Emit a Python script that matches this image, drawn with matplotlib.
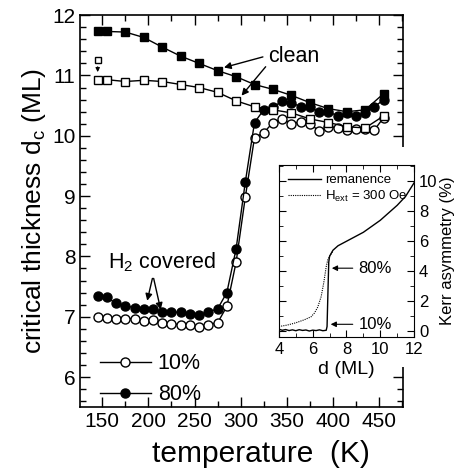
import matplotlib
matplotlib.use("Agg")
import matplotlib.pyplot as plt
from matplotlib.patches import Rectangle
from matplotlib.lines import Line2D
from matplotlib.ticker import MultipleLocator

plt.rcParams['font.family'] = ['Liberation Sans', 'DejaVu Sans']
plt.rcParams['mathtext.fontset'] = 'custom'
plt.rcParams['mathtext.rm'] = 'Liberation Sans'

# clean surface (squares)
T_clean = [145, 155, 175, 195, 215, 235, 255, 275, 295, 315, 335, 355, 375, 395, 415, 435, 455]
dc_clean_80 = [11.73, 11.73, 11.72, 11.63, 11.47, 11.32, 11.20, 11.08, 10.98, 10.85,
               10.77, 10.67, 10.55, 10.45, 10.40, 10.43, 10.70]
dc_clean_10 = [10.93, 10.93, 10.90, 10.92, 10.90, 10.85, 10.80, 10.72, 10.58, 10.48,
               10.43, 10.38, 10.28, 10.22, 10.15, 10.13, 10.33]
T_extra = [145, 145]
dc_extra = [11.25, 10.93]

# H2 covered surface (circles)
T_h2 = [145, 155, 165, 175, 185, 195, 205, 215, 225, 235, 245, 255, 265, 275, 285, 295,
        305, 315, 325, 335, 345, 355, 365, 375, 385, 395, 405, 415, 425, 435, 445, 455]
dc_h2_80 = [7.35, 7.32, 7.22, 7.18, 7.15, 7.13, 7.12, 7.08, 7.08, 7.07, 7.05, 7.03, 7.08,
            7.13, 7.40, 8.12, 9.23, 10.22, 10.43, 10.48, 10.57, 10.55, 10.48, 10.47, 10.40,
            10.40, 10.33, 10.37, 10.33, 10.38, 10.48, 10.60]
dc_h2_10 = [7.00, 6.98, 6.97, 6.97, 6.97, 6.93, 6.95, 6.90, 6.88, 6.87, 6.87, 6.83, 6.87,
            6.90, 7.17, 7.90, 8.98, 9.97, 10.05, 10.22, 10.28, 10.20, 10.23, 10.20, 10.08,
            10.15, 10.13, 10.10, 10.12, 10.12, 10.10, 10.30]

# inset: Kerr asymmetry vs thickness
d_rem = [4.0, 4.2, 4.4, 4.6, 4.8, 5.0, 5.2, 5.4, 5.6, 5.8, 6.0, 6.2, 6.4, 6.6, 6.8,
         6.85, 6.9, 6.95, 7.0, 7.2, 7.5, 8.0, 8.5, 9.0, 9.5, 10.0, 10.5, 11.0, 11.5, 12.0]
K_rem = [0.12, 0.05, 0.10, 0.03, 0.08, 0.02, 0.09, 0.04, 0.07, 0.00, 0.06, 0.03, 0.08,
         0.02, 0.05, 0.30, 2.50, 4.60, 5.00, 5.40, 5.70, 6.00, 6.30, 6.60, 7.00, 7.40,
         7.90, 8.40, 9.00, 9.90]
d_ext = [4.0, 4.5, 5.0, 5.5, 5.9, 6.1, 6.3, 6.5, 6.65, 6.8, 6.9, 7.0, 7.2]
K_ext = [0.30, 0.40, 0.55, 0.75, 0.95, 1.20, 1.60, 2.30, 3.20, 4.30, 4.80, 5.00, 5.35]

fig = plt.figure(figsize=(4.58, 4.74), dpi=100)
ax = fig.add_axes([0.175, 0.141, 0.705, 0.827])

mk = dict(color='black', lw=1.0, markeredgecolor='black', markeredgewidth=1.0)
ax.plot(T_h2, dc_h2_10, marker='o', ms=6.5, markerfacecolor='white', zorder=3, **mk)
ax.plot(T_h2, dc_h2_80, marker='o', ms=6.5, markerfacecolor='black', zorder=3, **mk)
ax.plot(T_clean, dc_clean_10, marker='s', ms=6, markerfacecolor='white', zorder=4, **mk)
ax.plot(T_clean, dc_clean_80, marker='s', ms=6, markerfacecolor='black', zorder=4, **mk)
ax.plot(T_extra[:1], dc_extra[:1], marker='s', ms=5, markerfacecolor='white', ls='none',
        markeredgecolor='black', zorder=4)
ax.annotate('', xy=(T_extra[1], dc_extra[1] + 0.08), xytext=(T_extra[0], dc_extra[0] - 0.06),
            arrowprops=dict(arrowstyle='-|>', color='black', lw=0.8, mutation_scale=6))

ax.set_xlim(126, 476)
ax.set_ylim(5.5, 12)
ax.xaxis.set_major_locator(MultipleLocator(50))
ax.xaxis.set_minor_locator(MultipleLocator(25))
ax.yaxis.set_major_locator(MultipleLocator(1))
ax.yaxis.set_minor_locator(MultipleLocator(0.2))
ax.tick_params(which='both', direction='in', top=True, right=True, labelsize=15, width=1.0)
ax.tick_params(which='major', length=7)
ax.tick_params(which='minor', length=4)
for s in ax.spines.values():
    s.set_linewidth(1.2)
ax.set_xlabel('temperature  (K)', fontsize=21.5)
ax.xaxis.set_label_coords(0.56, -0.085)
ax.set_ylabel('critical thickness d$_\\mathregular{c}$ (ML)', fontsize=19, labelpad=3)

# annotations
ax.text(357, 11.32, 'clean', fontsize=15.5, ha='center', va='center')
arr = dict(arrowstyle='-|>', color='black', lw=1.0, mutation_scale=10)
ax.annotate('', xy=(279, 11.12), xytext=(327, 11.32), arrowprops=arr)
ax.annotate('', xy=(299, 10.63), xytext=(329, 11.18), arrowprops=arr)
ax.text(215, 7.9, 'H$_\\mathregular{2}$ covered', fontsize=15.5, ha='center', va='center')
ax.annotate('', xy=(198, 7.22), xytext=(205, 7.68), arrowprops=arr)
ax.annotate('', xy=(214, 7.07), xytext=(205, 7.68), arrowprops=arr)

handles = [Line2D([], [], marker='o', ms=6.5, markerfacecolor='white', **mk),
           Line2D([], [], marker='o', ms=6.5, markerfacecolor='black', **mk)]
ax.legend(handles, ['10%', '80%'], loc='upper left', bbox_to_anchor=(0.06, 0.137),
          frameon=False, fontsize=15.5, handlelength=2.4, handletextpad=0.3,
          labelspacing=0.45, borderpad=0, borderaxespad=0)

# white backdrop behind the inset and its labels
fig.add_artist(Rectangle((0.579, 0.226), 0.421, 0.464, transform=fig.transFigure,
                         facecolor='white', edgecolor='none', zorder=1))

axin = fig.add_axes([0.609, 0.289, 0.295, 0.363], zorder=2)
axin.plot(d_ext, K_ext, color='black', lw=0.8, ls=(0, (1, 1)))
axin.plot(d_rem, K_rem, color='black', lw=1.0)
axin.set_xlim(4, 12)
axin.set_ylim(-0.4, 11.1)
axin.xaxis.set_major_locator(MultipleLocator(2))
axin.xaxis.set_minor_locator(MultipleLocator(1))
axin.yaxis.set_major_locator(MultipleLocator(2))
axin.yaxis.set_minor_locator(MultipleLocator(1))
axin.tick_params(which='both', direction='in', top=True, right=True, left=True,
                 labelleft=False, labelright=True, labelsize=12)
axin.tick_params(which='major', length=5)
axin.tick_params(which='minor', length=3)
axin.yaxis.set_label_position('right')
axin.set_xlabel('d (ML)', fontsize=14, labelpad=3)
axin.set_ylabel('Kerr asymmetry (%)', fontsize=12, labelpad=2)
axin.legend(['H$_\\mathregular{ext}$ = 300 Oe', 'remanence'], loc='upper left', frameon=False,
            fontsize=9.5, handlelength=2.5, handletextpad=0.3, labelspacing=0.2,
            borderaxespad=0.3, reverse=True)
arr2 = dict(arrowstyle='-|>', color='black', lw=0.8, mutation_scale=8)
axin.annotate('80%', xy=(6.97, 4.2), xytext=(8.7, 4.2), fontsize=12, va='center',
              arrowprops=arr2)
axin.annotate('10%', xy=(6.9, 0.45), xytext=(8.7, 0.45), fontsize=12, va='center',
              arrowprops=arr2)

fig.savefig('out.png', dpi=100)
